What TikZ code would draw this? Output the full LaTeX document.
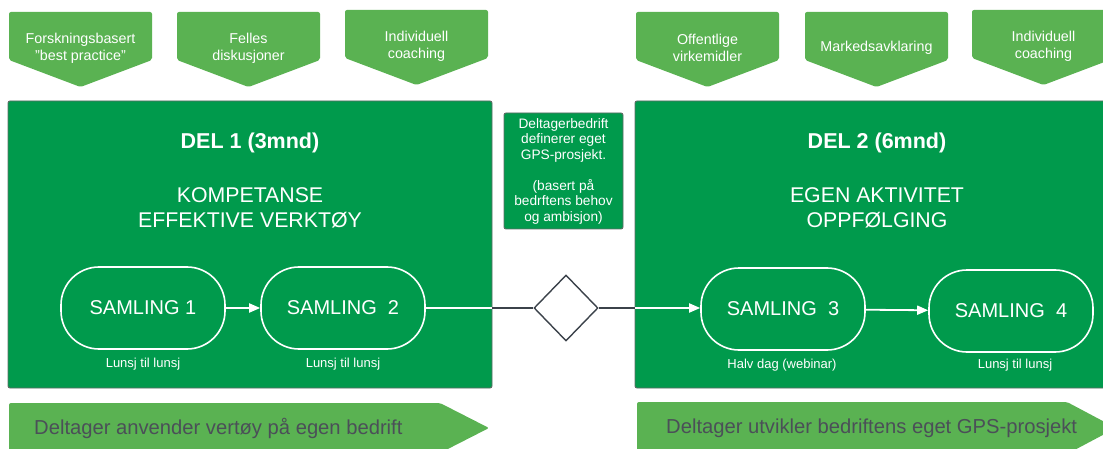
\documentclass[tikz,border=0pt]{standalone}
\usepackage{fontspec}
\setmainfont{Liberation Sans}
\setsansfont{Liberation Sans}
\usepackage{xcolor}
\definecolor{gpsLight}{HTML}{5AB252}
\definecolor{gpsDark}{HTML}{009A4C}
\definecolor{gpsBorder}{HTML}{5F6B66}
\definecolor{gpsLine}{HTML}{3B424A}
\definecolor{gpsText}{HTML}{4B4F58}
\usetikzlibrary{shapes.geometric,arrows.meta,positioning}
\tikzset{
    phase/.style={
        draw=gpsBorder,
        fill=gpsDark,
        rectangle,
        rounded corners=2pt,
        line width=0.9pt,
        minimum width=484pt,
        minimum height=287pt,
        inner sep=0pt
    },
    samling/.style={
        draw=white,
        rectangle,
        rounded corners=38pt,
        line width=1.6pt,
        minimum width=164pt,
        minimum height=82pt,
        text=white,
        font=\fontsize{20}{24}\selectfont
    },
    toptext/.style={
        text=white,
        align=center,
        font=\fontsize{14.3}{17}\selectfont
    },
    note/.style={
        text=white,
        font=\fontsize{13}{15}\selectfont
    },
    title/.style={
        text=white,
        font=\bfseries\fontsize{21.5}{25}\selectfont
    },
    heading/.style={
        text=white,
        align=center,
        font=\fontsize{21.3}{25.5}\selectfont
    },
    flow/.style={
        -{Triangle[length=11pt,width=9pt]},
        white,
        line width=1.8pt
    },
    link/.style={
        gpsLine,
        line width=1.8pt
    },
    bannertext/.style={
        text=gpsText,
        anchor=west,
        inner sep=0pt,
        font=\fontsize{20.2}{24}\selectfont
    }
}

\begin{document}
\begin{tikzpicture}[x=1pt,y=-1pt]
    \useasboundingbox (0,0) rectangle (1103,449);
    \clip (0,0) rectangle (1103,449);

    % Activities on top
    \foreach \x/\y/\nm/\txt in {9/12/akt1/{Forskningsbasert\\"best practice"},
        177/12/akt2/{Felles\\diskusjoner}, 345/10/akt3/{Individuell\\coaching},
        636/12/akt4/{Offentlige\\virkemidler}, 805/12/akt5/{Markedsavklaring},
        972/10/akt6/{Individuell\\coaching}} {
        \fill[gpsLight, rounded corners=2pt] (\x,\y+48) -- (\x,\y) -- (\x+143,\y)
            -- (\x+143,\y+48) -- (\x+71.5,\y+75) -- cycle;
        \node[toptext] (\nm) at (\x+71.5,\y+36) {\txt};
    }

    % Phase boxes
    \node[phase] (del1) at (250,244.5) {};
    \node[phase] (del2) at (877,244.5) {};
    \node[title] (tit1) at (250,143) {DEL 1 (3mnd)};
    \node[heading] (mal1) at (250,208) {KOMPETANSE\\EFFEKTIVE VERKTØY};
    \node[title] (tit2) at (877,143) {DEL 2 (6mnd)};
    \node[heading] (mal2) at (877,208) {EGEN AKTIVITET\\OPPFØLGING};

    % Choice in between
    \node[draw=gpsBorder, fill=gpsDark, rounded corners=2pt, line width=0.9pt,
        minimum width=119pt, minimum height=116pt, inner sep=0pt, text=white,
        align=center, font=\fontsize{13.7}{15.5}\selectfont] (gps) at (563.5,171)
        {Deltagerbedrift\\definerer eget\\GPS-prosjekt.\\[15.5pt](basert på\\bedrftens behov\\og ambisjon)};
    \node[diamond, draw=gpsLine, fill=white, line width=1.4pt, minimum width=64pt,
        minimum height=66pt, inner sep=0pt] (valg) at (566,308) {};

    % Samlinger
    \node[samling] (s1) at (143,308) {SAMLING 1};
    \node[samling] (s2) at (343,308) {SAMLING~~2};
    \node[samling] (s3) at (783,309) {SAMLING~~3};
    \node[samling] (s4) at (1011,311) {SAMLING~~4};
    \node[note] (n1) at (143,364) {Lunsj til lunsj};
    \node[note] (n2) at (343,364) {Lunsj til lunsj};
    \node[note] (n3) at (782,365) {Halv dag (webinar)};
    \node[note] (n4) at (1015,365) {Lunsj til lunsj};

    \draw[flow] (s1) -- (s2);
    \draw[white, line width=1.8pt] (s2.east) -- (s2.east -| del1.east);
    \draw[link] (s2.east -| del1.east) -- (valg.west);
    \draw[link] (valg.east) -- (valg.east -| del2.west);
    \draw[flow] (valg.east -| del2.west) -- (s3.west |- valg.east);
    \draw[flow] (s3) -- (s4);

    % Banners at the bottom
    \fill[gpsLight, rounded corners=2pt] (9,403) -- (440,403) -- (489,428)
        -- (440,453) -- (9,453) -- cycle;
    \node[bannertext] (ban1) at (34,428) {Deltager anvender vertøy på egen bedrift};
    \fill[gpsLight, rounded corners=2pt] (637,402) -- (1067,402) -- (1116,428)
        -- (1067,454) -- (637,454) -- cycle;
    \node[bannertext] (ban2) at (666,428) {Deltager utvikler bedriftens eget GPS-prosjekt};
\end{tikzpicture}
\end{document}
